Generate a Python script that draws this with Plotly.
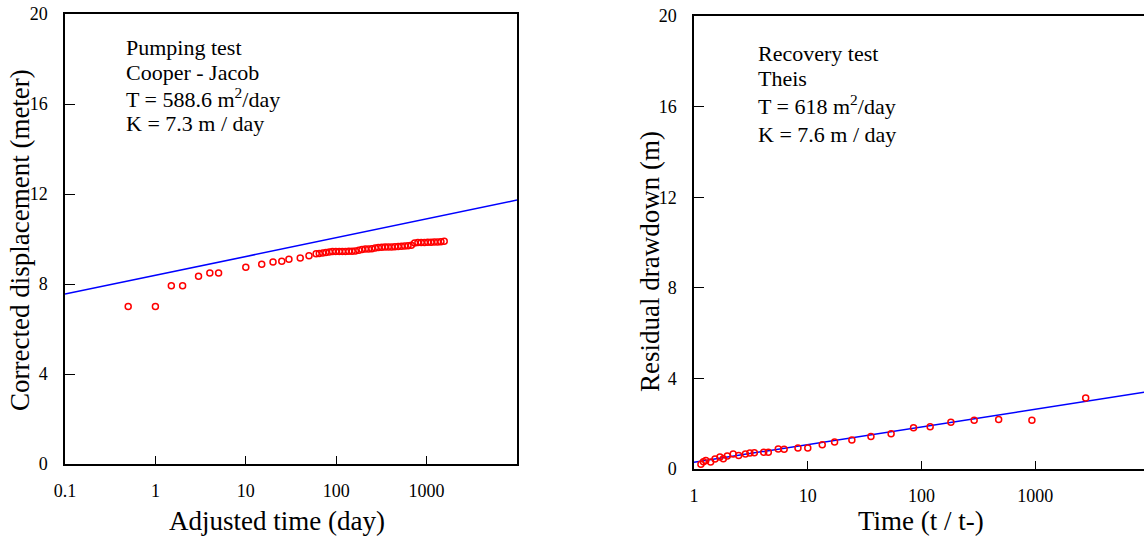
import plotly.graph_objects as go

# ---------------- data ----------------
# Left: pumping test (Cooper - Jacob)
pump_time = [0.5, 1, 1.5, 2, 3, 4, 5, 10, 15, 20, 25, 30, 40, 50, 60,
             65, 71, 77, 84, 91, 99, 108, 117, 127, 138, 150, 163, 178, 193,
             210, 228, 248, 270, 293, 319, 347, 377, 410, 446, 485, 527, 573,
             623, 678, 737, 801, 871, 947, 1030, 1120, 1218, 1324, 1440, 1566]
pump_disp = [7.0, 7.0, 7.92, 7.92, 8.34, 8.49, 8.49, 8.75, 8.88, 8.98, 9.01, 9.1, 9.16, 9.26, 9.34,
             9.36, 9.38, 9.40, 9.42, 9.44, 9.45, 9.45, 9.45, 9.45, 9.46, 9.46, 9.47, 9.50, 9.53,
             9.55, 9.56, 9.57, 9.60, 9.62, 9.63, 9.64, 9.64, 9.65, 9.66, 9.67, 9.68, 9.69,
             9.70, 9.72, 9.82, 9.84, 9.85, 9.85, 9.86, 9.86, 9.87, 9.87, 9.88, 9.90]
pump_fit_t = [0.1, 10000]
pump_fit_s = [7.55, 11.73]

# Right: recovery test (Theis)
rec_ratio = [1.15, 1.21, 1.27, 1.40, 1.53, 1.69, 1.81, 1.96, 2.21, 2.47, 2.83, 3.1, 3.39,
             4.1, 4.5, 5.5, 6.2, 8.2, 10, 13.4, 17.2, 24.4, 35.9, 54, 85, 119, 181,
             290, 476, 933, 2770]
rec_draw = [0.21, 0.32, 0.37, 0.31, 0.44, 0.53, 0.45, 0.57, 0.66, 0.60, 0.66, 0.71, 0.72,
            0.74, 0.74, 0.88, 0.87, 0.93, 0.93, 1.07, 1.19, 1.28, 1.43, 1.56, 1.82, 1.87, 2.06,
            2.15, 2.19, 2.15, 3.13]
rec_fit_t = [1, 10000]
rec_fit_s = [0.30, 3.42]

left_xticks = [0.1, 1, 10, 100, 1000]
left_xticklabels = ["0.1", "1", "10", "100", "1000"]
right_xticks = [1, 10, 100, 1000]
right_xticklabels = ["1", "10", "100", "1000"]
yticks = [0, 4, 8, 12, 16, 20]

left_text = ["Pumping test", "Cooper - Jacob", "T = 588.6 m<sup>2</sup>/day", "K = 7.3 m / day"]
right_text = ["Recovery test", "Theis", "T = 618 m<sup>2</sup>/day", "K = 7.6 m / day"]

# ---------------- figure ----------------
W, H = 1144, 538
FONT = "Liberation Serif"
RED = "#ff0000"
BLUE = "#0000ff"

fig = go.Figure()
fig.add_trace(go.Scatter(x=pump_fit_t, y=pump_fit_s, mode="lines",
                         line=dict(color=BLUE, width=1.5), xaxis="x", yaxis="y",
                         showlegend=False))
fig.add_trace(go.Scatter(x=pump_time, y=pump_disp, mode="markers",
                         marker=dict(symbol="circle-open", size=6, color=RED, line=dict(width=1.5, color=RED)),
                         xaxis="x", yaxis="y", showlegend=False))
fig.add_trace(go.Scatter(x=rec_fit_t, y=rec_fit_s, mode="lines",
                         line=dict(color=BLUE, width=1.5), xaxis="x2", yaxis="y2",
                         showlegend=False))
fig.add_trace(go.Scatter(x=rec_ratio, y=rec_draw, mode="markers",
                         marker=dict(symbol="circle-open", size=6, color=RED, line=dict(width=1.5, color=RED)),
                         xaxis="x2", yaxis="y2", showlegend=False))

def px(x):
    return x / W

def py(y):
    return 1 - y / H

tickfont = dict(family=FONT, size=18, color="black")

common_x = dict(type="log", showgrid=False, zeroline=False, showline=True, linecolor="black",
                linewidth=1.5, ticks="inside", ticklen=8, tickcolor="black", tickwidth=1,
                tickfont=tickfont, ticklabelstandoff=10, automargin=False)
common_y = dict(showgrid=False, zeroline=False, showline=True, linecolor="black",
                linewidth=1.5, ticks="inside", ticklen=10, tickcolor="black", tickwidth=1,
                tickfont=tickfont, range=[0, 20], tickvals=yticks, ticklabelstandoff=12,
                automargin=False)

fig.update_layout(
    width=W, height=H,
    font=dict(family=FONT, color="black"),
    margin=dict(l=0, r=0, t=0, b=0, pad=0, autoexpand=False),
    paper_bgcolor="white", plot_bgcolor="white",
    xaxis=dict(common_x, domain=[px(65), px(517)], range=[-1, 4], anchor="y",
               tickvals=left_xticks, ticktext=left_xticklabels, mirror=True),
    yaxis=dict(common_y, domain=[py(464), py(14)], anchor="x", mirror=True),
    xaxis2=dict(common_x, domain=[px(694), 1.0], range=[0, 3.955], anchor="y2",
                tickvals=right_xticks, ticktext=right_xticklabels, mirror=True),
    yaxis2=dict(common_y, domain=[py(469), py(16)], anchor="x2", mirror=False),
)

annotations = []
for txt, yy in zip(left_text, [48, 73, 98, 124]):
    annotations.append(dict(text=txt, x=px(124), y=py(yy), xref="paper", yref="paper",
                            xanchor="left", yanchor="middle", showarrow=False,
                            font=dict(family=FONT, size=22, color="black")))
for txt, yy in zip(right_text, [53, 79, 105, 134]):
    annotations.append(dict(text=txt, x=px(756), y=py(yy), xref="paper", yref="paper",
                            xanchor="left", yanchor="middle", showarrow=False,
                            font=dict(family=FONT, size=22, color="black")))

title_font = dict(family=FONT, size=27, color="black")
annotations += [
    dict(text="Adjusted time (day)", x=px(277), y=py(521), xref="paper", yref="paper",
         xanchor="center", yanchor="middle", showarrow=False, font=title_font),
    dict(text="Time (t / t-)", x=px(921), y=py(521), xref="paper", yref="paper",
         xanchor="center", yanchor="middle", showarrow=False, font=title_font),
    dict(text="Corrected displacement (meter)", x=px(20), y=py(240), xref="paper", yref="paper",
         xanchor="center", yanchor="middle", showarrow=False, textangle=-90, font=title_font),
    dict(text="Residual drawdown (m)", x=px(650), y=py(262), xref="paper", yref="paper",
         xanchor="center", yanchor="middle", showarrow=False, textangle=-90, font=title_font),
]
fig.update_layout(annotations=annotations)

fig.write_html("out.html")
